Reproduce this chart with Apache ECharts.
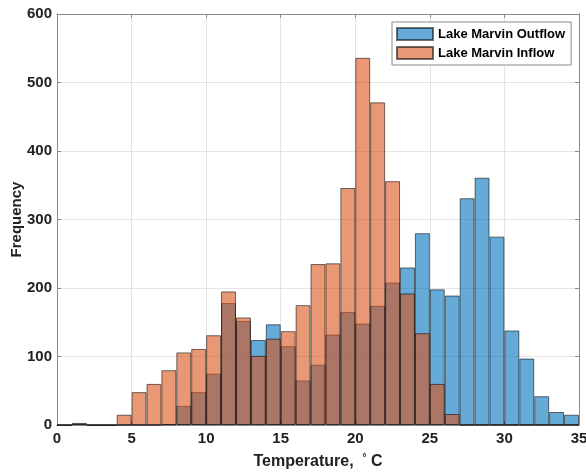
<!DOCTYPE html>
<html>
<head>
<meta charset="utf-8">
<script src="https://cdn.jsdelivr.net/npm/echarts@6/dist/echarts.min.js"></script>
<style>html,body{margin:0;padding:0;background:#fff}#c{width:586px;height:472px}</style>
</head>
<body>
<div id="c"></div>
<script>
// Bin left edges (bin width 1 °C)
var binEdges = [0,1,2,3,4,5,6,7,8,9,10,11,12,13,14,15,16,17,18,19,20,21,22,23,24,25,26,27,28,29,30,31,32,33,34];
var outflow = [0,2,0,0,0,0,0,1,28,48,75,178,152,124,147,115,65,88,132,165,148,174,208,230,280,198,189,331,361,275,138,97,42,19,15];
var inflow  = [0,3,0,0,15,48,60,80,106,111,131,195,157,101,126,137,175,235,236,346,536,471,356,192,134,60,16,0,0,0,0,0,0,0,0];
var xTicks = [0,5,10,15,20,25,30,35];
var yTicks = [0,100,200,300,400,500,600];

var FONT = 'Liberation Sans, Arial, Helvetica, sans-serif';
var frame = '#8a8a8a';
var chart = echarts.init(document.getElementById('c'));
chart.setOption({
  animation: false,
  backgroundColor: '#fff',
  grid: {left: 57, right: 7, top: 14, bottom: 47, containLabel: false, outerBoundsMode: 'none'},
  legend: {
    orient: 'vertical', left: 392, top: 22,
    padding: [5, 6, 5, 4], itemGap: 5,
    itemWidth: 36, itemHeight: 12, icon: 'rect',
    backgroundColor: '#fff', borderColor: '#8a8a8a', borderWidth: 1,
    textStyle: {fontFamily: FONT, fontSize: 13, fontWeight: 'bold', color: '#000'},
    data: ['Lake Marvin Outflow', 'Lake Marvin Inflow']
  },
  xAxis: [
    {type: 'category', data: binEdges, show: false, boundaryGap: true, position: 'top'},
    {type: 'value', min: 0, max: 35, interval: 5, position: 'bottom',
     axisLine: {show: true, onZero: false, lineStyle: {color: frame, width: 1}},
     axisTick: {show: true, inside: true, length: 4, lineStyle: {color: frame}},
     axisLabel: {fontFamily: FONT, fontSize: 15, fontWeight: 'bold', color: '#222', margin: 6,
       formatter: function(v){ return xTicks.indexOf(v) >= 0 ? String(v) : ''; }},
     splitLine: {show: true, lineStyle: {color: '#e4e4e4', width: 1}},
     name: 'Temperature,  {s|°} C', nameLocation: 'middle', nameGap: 28,
     nameTextStyle: {fontFamily: FONT, fontSize: 16, fontWeight: 'bold', color: '#222',
       rich: {s: {fontFamily: FONT, fontSize: 10, fontWeight: 'bold', color: '#222', verticalAlign: 'top', padding: [0,0,7,0]}}}
    },
    {type: 'value', min: 0, max: 35, interval: 5, position: 'top',
     axisLine: {show: true, onZero: false, lineStyle: {color: frame, width: 1}},
     axisTick: {show: true, inside: true, length: 4, lineStyle: {color: frame}},
     axisLabel: {show: false}, splitLine: {show: false}}
  ],
  yAxis: [
    {type: 'value', min: 0, max: 600, interval: 100, position: 'left',
     axisLine: {show: true, onZero: false, lineStyle: {color: frame, width: 1}},
     axisTick: {show: true, inside: true, length: 4, lineStyle: {color: frame}},
     axisLabel: {fontFamily: FONT, fontSize: 15, fontWeight: 'bold', color: '#222', margin: 5,
       formatter: function(v){ return yTicks.indexOf(v) >= 0 ? String(v) : ''; }},
     splitLine: {show: true, lineStyle: {color: '#e4e4e4', width: 1}},
     name: 'Frequency', nameLocation: 'middle', nameGap: 33, nameRotate: 90, nameMoveOverlap: false,
     nameTextStyle: {fontFamily: FONT, fontSize: 15, fontWeight: 'bold', color: '#222'}},
    {type: 'value', min: 0, max: 600, interval: 100, position: 'right',
     axisLine: {show: true, onZero: false, lineStyle: {color: frame, width: 1}},
     axisTick: {show: true, inside: true, length: 4, lineStyle: {color: frame}},
     axisLabel: {show: false}, splitLine: {show: false}}
  ],
  series: [
    {name: 'Lake Marvin Outflow', type: 'bar', xAxisIndex: 0, yAxisIndex: 0,
     data: outflow, barWidth: '100%', barGap: '-100%',
     itemStyle: {color: 'rgba(0,114,189,0.6)', borderColor: 'rgba(0,0,0,0.55)', borderWidth: 1}},
    {name: 'Lake Marvin Inflow', type: 'bar', xAxisIndex: 0, yAxisIndex: 0,
     data: inflow, barWidth: '100%', barGap: '-100%',
     itemStyle: {color: 'rgba(217,83,25,0.6)', borderColor: 'rgba(0,0,0,0.55)', borderWidth: 1}}
  ]
});
</script>
</body>
</html>
